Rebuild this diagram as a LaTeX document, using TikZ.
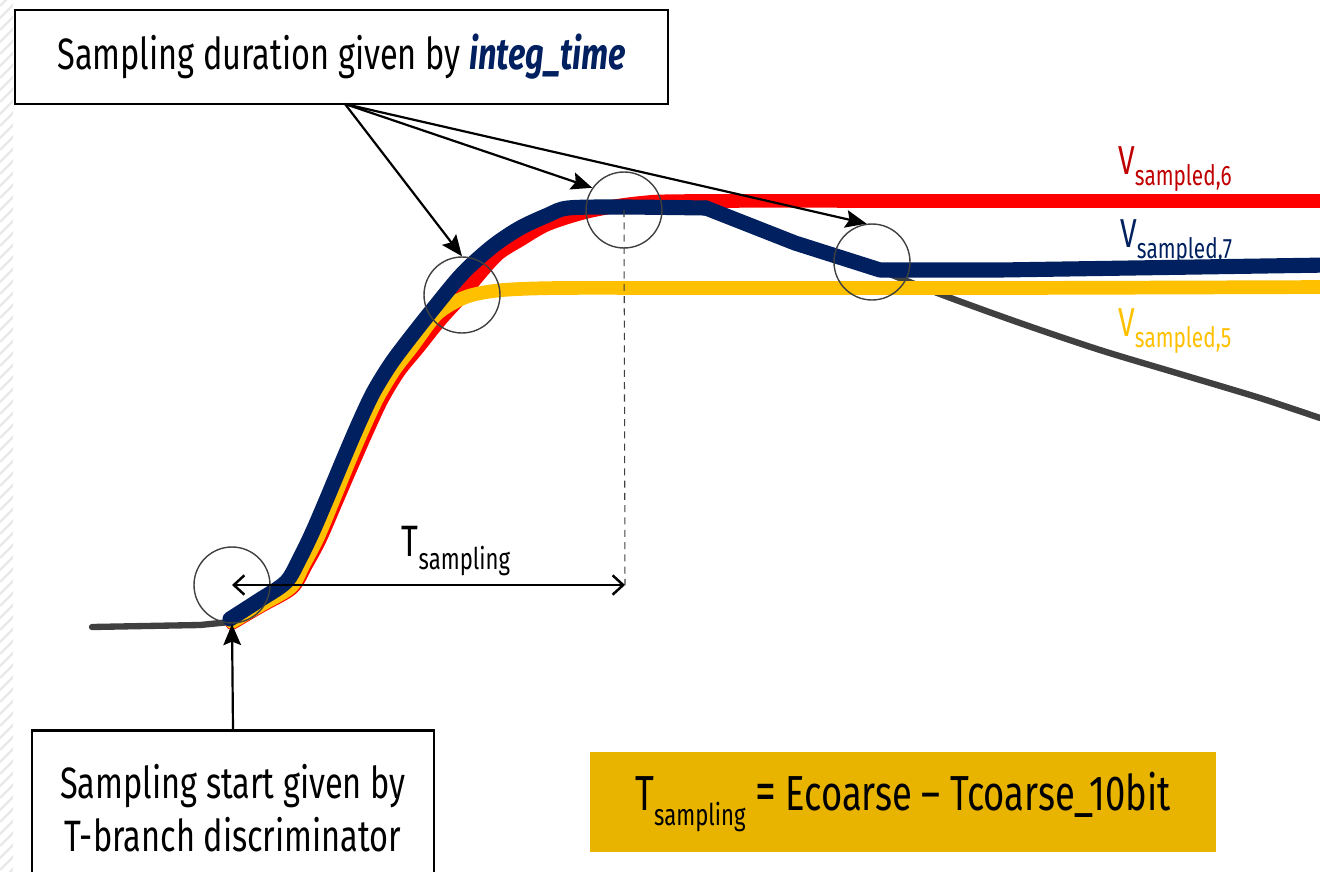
\documentclass[tikz,border=0pt]{standalone}
\usepackage{fontspec}
\setmainfont{Fira Sans}[FakeStretch=0.74]
\usetikzlibrary{arrows.meta}
\definecolor{navyc}{HTML}{002060}
\definecolor{redc}{HTML}{FF0000}
\definecolor{redt}{HTML}{C00000}
\definecolor{yelc}{HTML}{FFC000}
\definecolor{grayc}{HTML}{404040}
\definecolor{goldc}{HTML}{E8B400}
\newcommand{\subtxt}[2]{\raisebox{-0.55ex}{\fontsize{#1}{#1}\selectfont #2}}
\tikzset{
  textbox/.style={draw=black, line width=1.5pt, fill=white, inner sep=0pt},
  ring/.style={circle, draw=grayc, line width=0.8pt, minimum size=1.52cm, inner sep=0pt},
  pointer/.style={-{Stealth[length=12pt,width=10pt,inset=2pt]}, line width=1.25pt, black},
  span/.style={{Straight Barb[length=6pt,width=11pt]}-{Straight Barb[length=6pt,width=11pt]}, line width=1.4pt, black},
  curve/.style={line join=round, line cap=round},
  lbl/.style={inner sep=0pt, anchor=base west}
}
\begin{document}
\begin{tikzpicture}[x=0.02cm,y=-0.02cm]
\useasboundingbox (0,0) rectangle (1320,872);
\clip (0,0) rectangle (1320,872);
% faint hatched strip on the left edge
\begin{scope}
  \clip (0,0) rectangle (13,872);
  \foreach \k in {-20,-8,...,880} \draw[gray!18, line width=1.4pt] (0,\k+14) -- (14,\k);
\end{scope}

% curves
\draw[grayc, line width=3.6pt, curve] (92,627) -- (200,625) -- (230,622);
\draw[grayc, line width=3.6pt, curve] plot[smooth, tension=0.5] coordinates {(870,266) (940,294) (1020,323) (1100,350) (1180,374) (1260,398) (1320,418)};
\draw[redc, line width=7.8pt, curve] plot[smooth, tension=0.5] coordinates {(232,623) (261,606) (292,588) (306,565) (320,539) (336,502) (352,465) (367,431) (382,399) (399,371) (417,349) (441,319) (462,296) (478,276) (498,254) (520,240) (548,224) (590,211) (640,203) (700,201) (1000,201) (1330,201)};
\draw[yelc, line width=7.8pt, curve] plot[smooth, tension=0.5] coordinates {(232,622) (261,605) (291,587) (304,564) (318,537) (333,501) (348,464) (363,429) (378,397) (395,369) (412,347) (435,316) (453,303) (472,295) (503,290) (560,288) (700,288) (1000,288) (1330,287)};
\draw[navyc, line width=8.6pt, curve] plot[smooth, tension=0.5] coordinates {(230,619) (258,601) (286,582) (300,558) (313,531) (328,496) (343,460) (358,425) (373,393) (390,365) (407,342) (433,309) (463,273) (493,246) (520,228) (548,215) (568,208) (620,207) (706,208)};
\draw[navyc, line width=8.6pt, curve] (706,208) -- (795,243) -- (880,270) -- (1000,270) -- (1330,265);

% circles
\node[ring] (c1) at (462,295) {};
\node[ring] (c2) at (624,210) {};
\node[ring] (c3) at (872,262) {};
\node[ring] (c4) at (232,585) {};

% boxes
\node[textbox, minimum width=13.06cm, minimum height=1.88cm, font=\fontsize{25}{30}\selectfont] (top) at (341.5,57)
  {Sampling duration given by \textcolor{navyc}{\bfseries\itshape integ\_time}};
\node[textbox, minimum width=8.04cm, minimum height=3.1cm, align=center, font=\fontsize{25}{30.5}\selectfont] (start) at (233,808)
  {Sampling start given by\\T-branch discriminator};
\node[fill=goldc, minimum width=12.52cm, minimum height=2.0cm, inner sep=0pt, font=\fontsize{28}{30}\selectfont] (eq) at (903,802)
  {T\subtxt{17}{sampling} {\fontsize{32}{32}\selectfont =} Ecoarse -- Tcoarse\_10bit};

% labels
\node[lbl, text=redt] (v6) at (1118,174) {\fontsize{23}{23}\selectfont V\subtxt{16}{sampled,6}};
\node[lbl, text=navyc] (v7) at (1120,247) {\fontsize{23}{23}\selectfont V\subtxt{16}{sampled,7}};
\node[lbl, text=yelc] (v5) at (1118,336) {\fontsize{23}{23}\selectfont V\subtxt{16}{sampled,5}};
\node[inner sep=0pt] (ts) at (456,551) {\fontsize{25}{25}\selectfont T\subtxt{17}{sampling}};

% connectors
\coordinate (src) at (345,104);
\coordinate (tend) at (625,585);
\coordinate (tstart) at (232,624);
\draw[pointer] (src) -- (c1.north);
\draw[pointer] (src) -- (c2.145);
\draw[pointer] (src) -- (c3.98);
\draw[pointer] (start.north) -- (tstart);
\draw[grayc, dashed, line width=0.6pt, dash pattern=on 4pt off 3pt] (c2.center) -- (tend);
\draw[span] (c4.center) -- (tend);
\end{tikzpicture}
\end{document}
